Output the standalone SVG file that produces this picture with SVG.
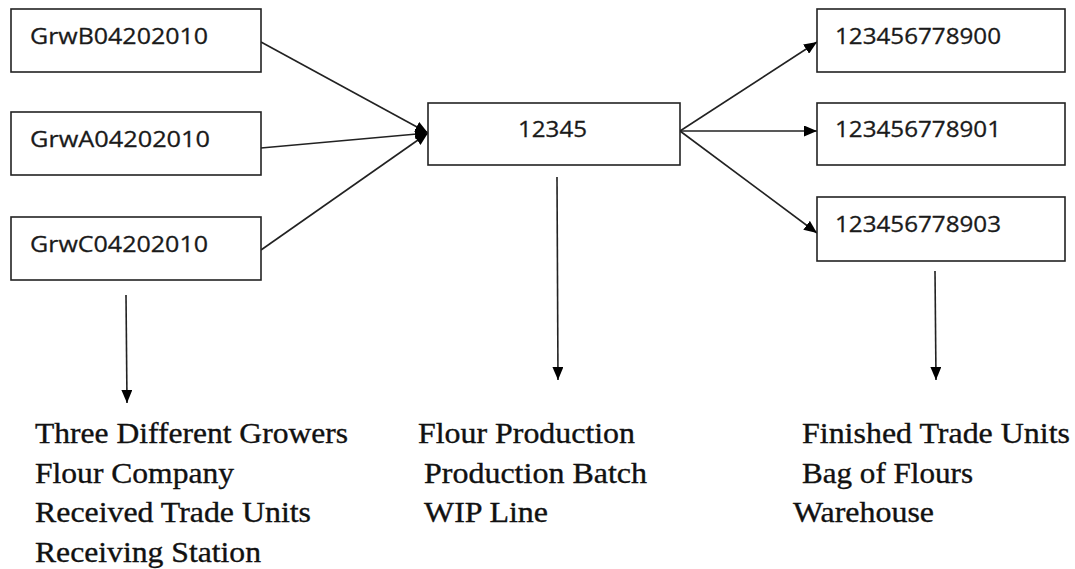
<svg xmlns="http://www.w3.org/2000/svg" width="1075" height="569" viewBox="0 0 1075 569">
<style>
.box{fill:#fff;stroke:#222;stroke-width:1.6}
.lbl{font-family:"Open Sans","DejaVu Sans",sans-serif;font-size:22px;fill:#1a1a1a;stroke:#1a1a1a;stroke-width:0.3}
.cap{font-family:"Liberation Serif","Times New Roman",serif;font-size:29px;fill:#111;stroke:#111;stroke-width:0.35}
.ln{stroke:#222;stroke-width:1.6;fill:none;marker-end:url(#ah)}
</style>
<defs>
<marker id="ah" viewBox="0 0 13 11" refX="13" refY="5.5" markerWidth="13" markerHeight="11" markerUnits="userSpaceOnUse" orient="auto">
<path d="M0,0 L13,5.5 L0,11 z" fill="#000"/>
</marker>
</defs>
<rect width="1075" height="569" fill="#fff"/>
<g id="connectors">
<line class="ln" x1="261" y1="42" x2="428" y2="133"/>
<line class="ln" x1="261" y1="148" x2="428" y2="133"/>
<line class="ln" x1="261" y1="250" x2="428" y2="133"/>
<line class="ln" x1="680" y1="131" x2="817" y2="42"/>
<line class="ln" x1="680" y1="131" x2="817" y2="131"/>
<line class="ln" x1="680" y1="131" x2="817" y2="233"/>
<line class="ln" x1="126" y1="295" x2="127" y2="403"/>
<line class="ln" x1="557" y1="177" x2="558" y2="380"/>
<line class="ln" x1="935" y1="271" x2="936" y2="380"/>
</g>
<g id="nodeB"><rect class="box" x="11" y="9" width="250" height="63"/><text class="lbl" x="30" y="44" textLength="178" lengthAdjust="spacingAndGlyphs">GrwB04202010</text></g>
<g id="nodeA"><rect class="box" x="11" y="112" width="250" height="63"/><text class="lbl" x="30" y="147" textLength="180" lengthAdjust="spacingAndGlyphs">GrwA04202010</text></g>
<g id="nodeC"><rect class="box" x="11" y="217" width="250" height="63"/><text class="lbl" x="30" y="252" textLength="178" lengthAdjust="spacingAndGlyphs">GrwC04202010</text></g>
<g id="nodeCenter"><rect class="box" x="428" y="103" width="252" height="62"/><text class="lbl" x="518" y="137" textLength="69" lengthAdjust="spacingAndGlyphs">12345</text></g>
<g id="node900"><rect class="box" x="817" y="9" width="248" height="63"/><text class="lbl" x="835" y="44" textLength="166" lengthAdjust="spacingAndGlyphs">123456778900</text></g>
<g id="node901"><rect class="box" x="817" y="103" width="248" height="62"/><text class="lbl" x="835" y="137" textLength="166" lengthAdjust="spacingAndGlyphs">123456778901</text></g>
<g id="node903"><rect class="box" x="817" y="197" width="248" height="64"/><text class="lbl" x="835" y="232" textLength="166" lengthAdjust="spacingAndGlyphs">123456778903</text></g>
<g id="captionLeft">
<text class="cap" x="35" y="443" textLength="313" lengthAdjust="spacingAndGlyphs">Three Different Growers</text>
<text class="cap" x="35" y="483" textLength="199" lengthAdjust="spacingAndGlyphs">Flour Company</text>
<text class="cap" x="35" y="522" textLength="276" lengthAdjust="spacingAndGlyphs">Received Trade Units</text>
<text class="cap" x="35" y="562" textLength="226" lengthAdjust="spacingAndGlyphs">Receiving Station</text>
</g>
<g id="captionMiddle">
<text class="cap" x="418" y="443" textLength="217" lengthAdjust="spacingAndGlyphs">Flour Production</text>
<text class="cap" x="424" y="483" textLength="223" lengthAdjust="spacingAndGlyphs">Production Batch</text>
<text class="cap" x="424" y="522" textLength="124" lengthAdjust="spacingAndGlyphs">WIP Line</text>
</g>
<g id="captionRight">
<text class="cap" x="802" y="443" textLength="268" lengthAdjust="spacingAndGlyphs">Finished Trade Units</text>
<text class="cap" x="802" y="483" textLength="171" lengthAdjust="spacingAndGlyphs">Bag of Flours</text>
<text class="cap" x="793" y="522" textLength="141" lengthAdjust="spacingAndGlyphs">Warehouse</text>
</g>
</svg>
